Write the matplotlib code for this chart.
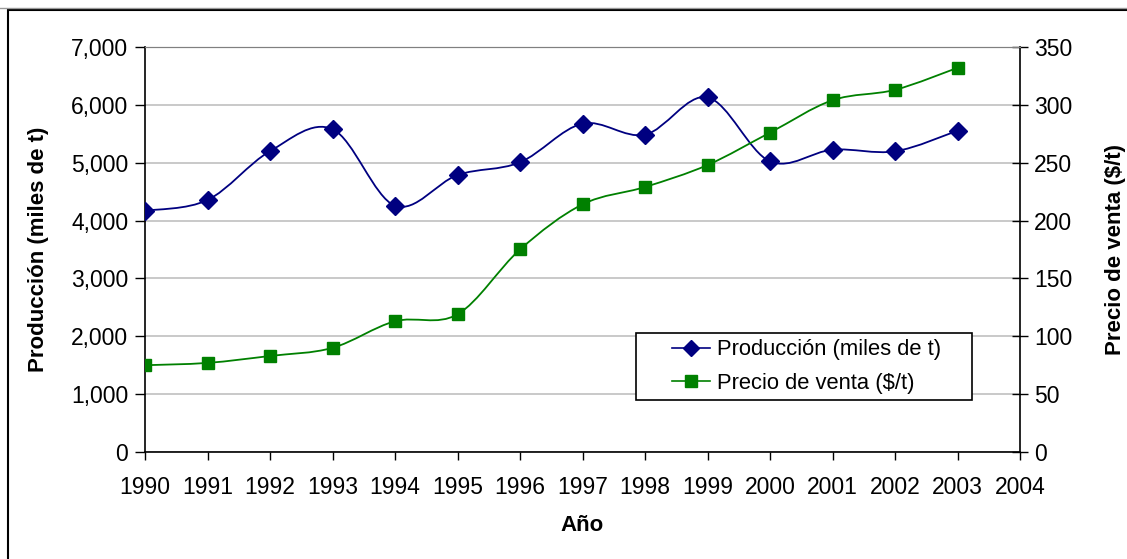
import matplotlib
matplotlib.use("Agg")
import matplotlib.pyplot as plt
from matplotlib.path import Path
from matplotlib.patches import PathPatch, Rectangle
from matplotlib.lines import Line2D
import numpy as np

plt.rcParams['font.family'] = ['Liberation Sans', 'DejaVu Sans']

years = [1990, 1991, 1992, 1993, 1994, 1995, 1996, 1997, 1998, 1999, 2000, 2001, 2002, 2003]
produccion = [4170, 4355, 5200, 5580, 4257, 4787, 5007, 5675, 5485, 6130, 5023, 5225, 5197, 5553]
precio = [75, 77, 83, 90, 113, 119, 175, 214, 229, 248, 276, 304, 313, 332]
xticks = list(range(1990, 2005))
left_ticks = list(range(0, 7001, 1000))
right_ticks = list(range(0, 351, 50))

W, H = 1127, 559
fig = plt.figure(figsize=(W / 100, H / 100), dpi=100)
L, R, T, B = 145, 1020, 47, 452
ax = fig.add_axes([L / W, 1 - B / H, (R - L) / W, (B - T) / H])
ax2 = ax.twinx()

# outer frame
fig.patches.append(Rectangle((8 / W, -0.1), 1.2, 1 - 10 / H + 0.1, transform=fig.transFigure,
                             fill=False, edgecolor='black', linewidth=1.5, zorder=0))
fig.lines.append(Line2D([0, 1], [1 - 8 / H, 1 - 8 / H], transform=fig.transFigure,
                        color='#999999', linewidth=1))


def smooth_path(xs, ys):
    pts = np.column_stack([xs, ys]).astype(float)
    n = len(pts)
    verts = [pts[0]]
    codes = [Path.MOVETO]
    for i in range(n - 1):
        p0 = pts[i - 1] if i > 0 else pts[i]
        p1 = pts[i]
        p2 = pts[i + 1]
        p3 = pts[i + 2] if i + 2 < n else pts[i + 1]
        c1 = p1 + (p2 - p0) / 6.0
        c2 = p2 - (p3 - p1) / 6.0
        verts += [c1, c2, p2]
        codes += [Path.CURVE4] * 3
    return Path(verts, codes)


blue = '#000080'
green = '#008000'

ax.add_patch(PathPatch(smooth_path(years, produccion), fill=False, edgecolor=blue, lw=1.3, zorder=3))
ax.plot(years, produccion, linestyle='none', marker='D', markersize=9, color=blue, zorder=4)
ax2.add_patch(PathPatch(smooth_path(years, precio), fill=False, edgecolor=green, lw=1.3, zorder=3))
ax2.plot(years, precio, linestyle='none', marker='s', markersize=9, color=green, zorder=4)

ax.set_xlim(1990, 2004)
ax.set_ylim(0, 7000)
ax2.set_ylim(0, 350)
ax.set_xticks(xticks)
ax.set_yticks(left_ticks)
ax2.set_yticks(right_ticks)
ax.set_yticklabels([f"{v:,}" for v in left_ticks])
ax2.set_yticklabels([str(v) for v in right_ticks])

fs = 16.5
ax.tick_params(axis='x', direction='out', length=6, width=1, labelsize=fs, pad=11)
ax.tick_params(axis='y', direction='out', length=7, width=1, labelsize=fs, pad=5)
ax2.tick_params(axis='y', direction='inout', length=12, width=1, labelsize=fs, pad=4)

ax.grid(axis='y', color='#c0c0c0', linewidth=1.2)
ax.set_axisbelow(True)
for sp in ['left', 'bottom']:
    ax.spines[sp].set_color('black')
    ax.spines[sp].set_linewidth(1.2)
ax.spines['top'].set_color('#808080')
ax.spines['right'].set_visible(False)
ax2.spines['right'].set_color('black')
ax2.spines['right'].set_linewidth(1.2)
ax2.spines['top'].set_color('#808080')
ax2.spines['left'].set_visible(False)
ax2.spines['bottom'].set_visible(False)

lfs = 16
ax.set_xlabel('Año', fontsize=lfs, fontweight='bold', labelpad=12)
ax.set_ylabel('Producción (miles de t)', fontsize=lfs, fontweight='bold', labelpad=16)
ax2.set_ylabel('Precio de venta ($/t)', fontsize=lfs, fontweight='bold', labelpad=24)

# legend box
lx0, ly0, lx1, ly1 = 636, 333, 972, 400
fig.patches.append(Rectangle((lx0 / W, 1 - ly1 / H), (lx1 - lx0) / W, (ly1 - ly0) / H,
                             transform=fig.transFigure, facecolor='white', edgecolor='black',
                             linewidth=1.2, zorder=5))
handles = [Line2D([], [], color=blue, marker='D', markersize=8, lw=1.2),
           Line2D([], [], color=green, marker='s', markersize=8, lw=1.2)]
leg = fig.legend(handles, ['Producción (miles de t)', 'Precio de venta ($/t)'],
                 loc='center left', bbox_to_anchor=(672 / W, 1 - 366.5 / H),
                 frameon=False, fontsize=15.8, handlelength=1.75, handletextpad=0.3,
                 labelspacing=0.55, borderpad=0, borderaxespad=0)
leg.set_zorder(6)

fig.savefig('out.png', dpi=100)
